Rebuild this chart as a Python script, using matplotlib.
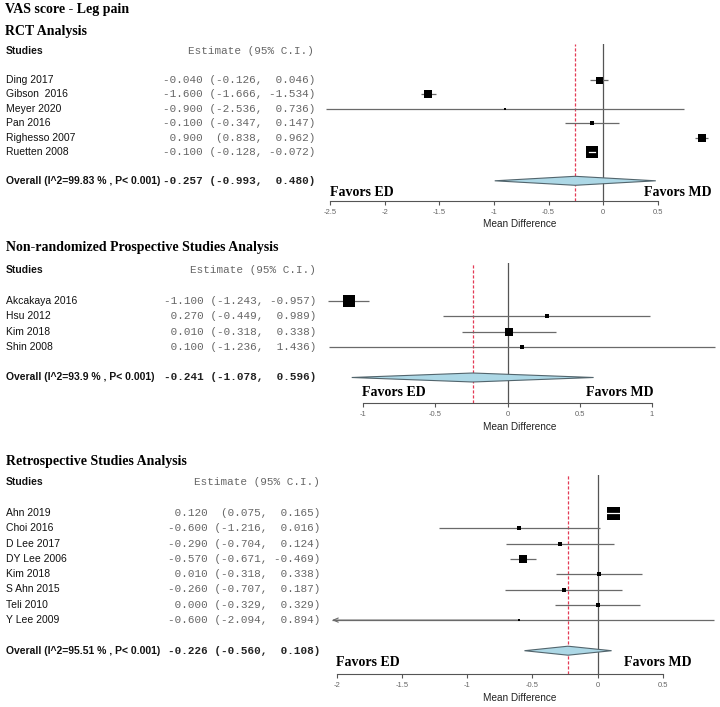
import matplotlib
matplotlib.use("Agg")
import matplotlib.pyplot as plt
from matplotlib import transforms
from matplotlib.patches import Polygon

# ---- data ----
rct_names = ["Ding 2017", "Gibson  2016", "Meyer 2020", "Pan 2016", "Righesso 2007", "Ruetten 2008"]
rct_est = [-0.040, -1.600, -0.900, -0.100, 0.900, -0.100]
rct_lo = [-0.126, -1.666, -2.536, -0.347, 0.838, -0.128]
rct_hi = [0.046, -1.534, 0.736, 0.147, 0.962, -0.072]
rct_box = [7, 8, 2, 4, 8, 12]          # box side (px), study weight
rct_overall = [-0.257, -0.993, 0.480]
rct_label = "Overall (I^2=99.83 % , P< 0.001)"
rct_ticks = [-2.5, -2, -1.5, -1, -0.5, 0, 0.5]
rct_ticklabels = ["-2.5", "-2", "-1.5", "-1", "-0.5", "0", "0.5"]

pro_names = ["Akcakaya 2016", "Hsu 2012", "Kim 2018", "Shin 2008"]
pro_est = [-1.100, 0.270, 0.010, 0.100]
pro_lo = [-1.243, -0.449, -0.318, -1.236]
pro_hi = [-0.957, 0.989, 0.338, 1.436]
pro_box = [12.5, 5, 8, 4]
pro_overall = [-0.241, -1.078, 0.596]
pro_label = "Overall (I^2=93.9 % , P< 0.001)"
pro_ticks = [-1, -0.5, 0, 0.5, 1]
pro_ticklabels = ["-1", "-0.5", "0", "0.5", "1"]

ret_names = ["Ahn 2019", "Choi 2016", "D Lee 2017", "DY Lee 2006", "Kim 2018", "S Ahn 2015", "Teli 2010", "Y Lee 2009"]
ret_est = [0.120, -0.600, -0.290, -0.570, 0.010, -0.260, 0.000, -0.600]
ret_lo = [0.075, -1.216, -0.704, -0.671, -0.318, -0.707, -0.329, -2.094]
ret_hi = [0.165, 0.016, 0.124, -0.469, 0.338, 0.187, 0.329, 0.894]
ret_box = [13, 4, 4, 8, 5, 4, 5, 2.5]
ret_overall = [-0.226, -0.560, 0.108]
ret_label = "Overall (I^2=95.51 % , P< 0.001)"
ret_ticks = [-2, -1.5, -1, -0.5, 0, 0.5]
ret_ticklabels = ["-2", "-1.5", "-1", "-0.5", "0", "0.5"]

W, H = 720, 707
fig = plt.figure(figsize=(7.2, 7.07), dpi=100)

def fx(x):
    return x / W

def fy(y):
    return 1 - y / H

serif = "Liberation Serif"
sans = "Liberation Sans"
mono = "Liberation Mono"

def ci_text(e, l, h):
    return f"{e:6.3f} " + f"({l:.3f},".rjust(8) + f"{h:7.3f})"

def panel(names, est, lo, hi, box, overall, label, ticks, ticklabels, lay):
    row0, step, zero, ppu, axis_y, left = lay["row0"], lay["step"], lay["zero"], lay["ppu"], lay["axis_y"], lay["left"]
    top = row0 - 2.5 * step
    ax = fig.add_axes([fx(left), fy(axis_y), (W - left) / W, (axis_y - top) / H])
    ax.set_xlim((left - zero) / ppu, (W - zero) / ppu)
    ax.set_ylim((axis_y - row0) / step, -2.5)
    ax.patch.set_alpha(0)
    for s in ["top", "left", "right"]:
        ax.spines[s].set_visible(False)
    ax.spines["bottom"].set_bounds(ticks[0], ticks[-1])
    ax.spines["bottom"].set_color("#555555")
    ax.spines["bottom"].set_linewidth(0.8)
    ax.set_yticks([])
    ax.set_xticks(ticks)
    ax.set_xticklabels(ticklabels, fontsize=5.5, color="#666666", family=sans)
    ax.tick_params(axis="x", length=3, width=0.8, color="#555555", pad=3)

    n = len(names)
    xl = ax.get_xlim()[0]
    ax.axvline(0, color="#555555", lw=0.9, zorder=1)
    ax.axvline(overall[0], color="#e33a55", lw=0.9, ls=(0, (2.5, 1.5)), zorder=1.5)

    for i in range(n):
        l = max(lo[i], xl)
        ax.plot([l, hi[i]], [i, i], color="#6a6a6a", lw=0.9, zorder=2, solid_capstyle="butt")
        if lo[i] < xl:
            ax.annotate("", xy=(xl, i), xytext=(est[i], i),
                        arrowprops=dict(arrowstyle="->,head_length=0.35,head_width=0.15",
                                        color="#6a6a6a", lw=0.8, shrinkA=0, shrinkB=0))
        ax.plot(est[i], i, marker="s", ms=box[i] * 0.72, mew=0, color="black", ls="none", zorder=3)
        half = box[i] / 2 / ppu
        if lo[i] >= est[i] - half and hi[i] <= est[i] + half:
            ax.plot([lo[i], hi[i]], [i, i], color="white", lw=0.9, zorder=4)

    yo = n + 1
    h = 4.5 / step
    d = Polygon([(overall[1], yo), (overall[0], yo - h), (overall[2], yo), (overall[0], yo + h)],
                closed=True, facecolor="#add8e6", edgecolor="#52656d", lw=0.8, zorder=2)
    ax.add_patch(d)

    tr = transforms.blended_transform_factory(fig.transFigure, ax.transData)
    ax.text(fx(6), -2, "Studies", transform=tr, fontsize=7.5, fontweight="bold", family=sans,
            color="#111111", va="center", ha="left")
    ax.text(fx(lay["hdr_x"]), -2, "Estimate (95% C.I.)", transform=tr, fontsize=7.9, family=mono,
            color="#666666", va="center", ha="left")
    for i in range(n):
        ax.text(fx(6), i, names[i], transform=tr, fontsize=7.5, family=sans, color="#111111",
                va="center", ha="left")
        ax.text(fx(lay["val_r"]), i, ci_text(est[i], lo[i], hi[i]), transform=tr, fontsize=7.9,
                family=mono, color="#666666", va="center", ha="right")
    ax.text(fx(6), yo, label, transform=tr, fontsize=7.5, family=sans, fontweight="bold",
            color="#111111", va="center", ha="left")
    ax.text(fx(lay["val_r"]), yo, ci_text(*overall), transform=tr, fontsize=7.9, family=mono,
            fontweight="bold", color="#222222", va="center", ha="right")

    fig.text(fx(lay["ed_x"]), fy(lay["fav_y"]), "Favors ED", fontsize=10, family=serif,
             fontweight="bold", va="center", ha="left")
    fig.text(fx(lay["md_x"]), fy(lay["fav_y"]), "Favors MD", fontsize=10, family=serif,
             fontweight="bold", va="center", ha="right")
    fig.text(fx(520), fy(lay["xlab_y"]), "Mean Difference", fontsize=7.2, family=sans,
             color="#222222", va="center", ha="center")
    return ax

fig.text(fx(5), fy(10), "VAS score - Leg pain", fontsize=10, family=serif, fontweight="bold", va="center")
fig.text(fx(5), fy(32), "RCT Analysis", fontsize=10, family=serif, fontweight="bold", va="center")
fig.text(fx(6), fy(247), "Non-randomized Prospective Studies Analysis", fontsize=10, family=serif,
         fontweight="bold", va="center")
fig.text(fx(6), fy(461), "Retrospective Studies Analysis", fontsize=10, family=serif,
         fontweight="bold", va="center")

panel(rct_names, rct_est, rct_lo, rct_hi, rct_box, rct_overall, rct_label, rct_ticks, rct_ticklabels,
      dict(row0=80, step=14.4, zero=603.3, ppu=109.33, axis_y=201, left=300, hdr_x=188, val_r=315,
           ed_x=330, md_x=712, fav_y=193, xlab_y=224))
panel(pro_names, pro_est, pro_lo, pro_hi, pro_box, pro_overall, pro_label, pro_ticks, pro_ticklabels,
      dict(row0=301, step=15.3, zero=507.5, ppu=144.5, axis_y=403, left=300, hdr_x=190, val_r=316,
           ed_x=362, md_x=653, fav_y=393, xlab_y=427))
panel(ret_names, ret_est, ret_lo, ret_hi, ret_box, ret_overall, ret_label, ret_ticks, ret_ticklabels,
      dict(row0=513, step=15.3, zero=597.5, ppu=130.4, axis_y=674, left=332, hdr_x=194, val_r=320,
           ed_x=336, md_x=691, fav_y=662, xlab_y=698))

fig.savefig("out.png", dpi=100)
